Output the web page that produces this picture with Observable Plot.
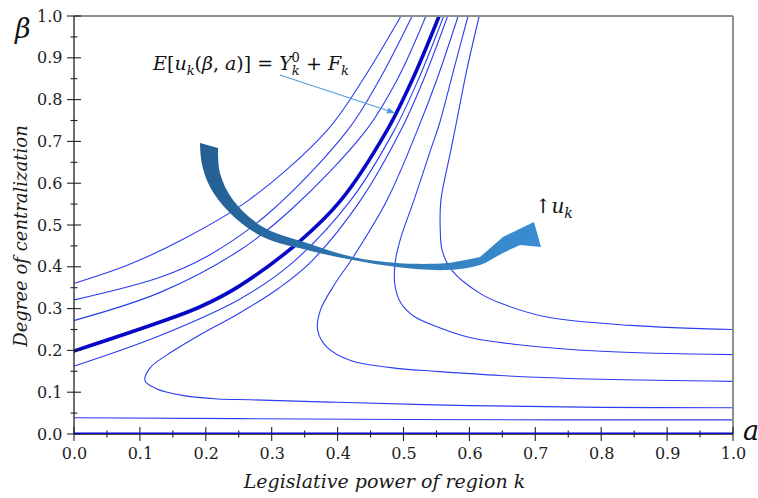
<!DOCTYPE html>
<html><head><meta charset="utf-8">
<script src="https://cdn.jsdelivr.net/npm/d3@7"></script>
<script src="https://cdn.jsdelivr.net/npm/@observablehq/plot@0.6"></script>
<style>html,body{margin:0;padding:0;background:#fff;} svg{display:block}</style>
</head><body><div id="chart"></div>
<script>
// ---- tick values ----
const xTicks = [0, 0.1, 0.2, 0.3, 0.4, 0.5, 0.6, 0.7, 0.8, 0.9, 1.0];
const yTicks = [0, 0.1, 0.2, 0.3, 0.4, 0.5, 0.6, 0.7, 0.8, 0.9, 1.0];
const minorTicks = [0.05, 0.15, 0.25, 0.35, 0.45, 0.55, 0.65, 0.75, 0.85, 0.95];

// ---- level curves [a, beta] ----
const curveA = [[0,0.362],[0.08,0.405],[0.161,0.464],[0.264,0.56],[0.383,0.727],[0.438,0.85],[0.495,1.0]];
const curveB = [[0,0.322],[0.13,0.376],[0.2,0.425],[0.295,0.53],[0.414,0.727],[0.463,0.85],[0.512,1.0]];
const curveC = [[0,0.273],[0.13,0.34],[0.25,0.44],[0.33,0.54],[0.442,0.727],[0.49,0.85],[0.533,1.0]];
const curveThick = [[0,0.2],[0.13,0.269],[0.19,0.305],[0.25,0.355],[0.343,0.464],[0.404,0.56],[0.474,0.727],[0.513,0.85],[0.553,1.0]];
const curveD = [[0,0.164],[0.13,0.237],[0.252,0.325],[0.33,0.41],[0.419,0.56],[0.485,0.727],[0.522,0.85],[0.56,1.0]];
const curveN1 = [[1.0,0.064],[0.8,0.065],[0.6,0.069],[0.4,0.077],[0.267,0.083],[0.217,0.085],[0.166,0.093],[0.125,0.109],[0.107,0.129],[0.115,0.16],[0.14,0.19],[0.19,0.238],[0.25,0.29],[0.31,0.35],[0.36,0.415],[0.434,0.56],[0.495,0.727],[0.53,0.85],[0.566,1.0]];
const curveN2 = [[1.0,0.127],[0.8,0.132],[0.646,0.141],[0.55,0.151],[0.48,0.16],[0.419,0.177],[0.383,0.209],[0.369,0.249],[0.373,0.297],[0.395,0.36],[0.421,0.42],[0.474,0.56],[0.52,0.727],[0.55,0.85],[0.582,1.0]];
const curveN3 = [[1.0,0.191],[0.8,0.199],[0.667,0.216],[0.6,0.232],[0.555,0.255],[0.515,0.283],[0.495,0.315],[0.486,0.36],[0.487,0.416],[0.495,0.47],[0.515,0.56],[0.54,0.679],[0.555,0.75],[0.575,0.87],[0.597,1.0]];
const curveN4 = [[1.0,0.251],[0.844,0.261],[0.717,0.281],[0.65,0.312],[0.616,0.337],[0.573,0.392],[0.558,0.44],[0.555,0.49],[0.556,0.56],[0.571,0.679],[0.58,0.75],[0.595,0.87],[0.614,1.0]];
const curveLow = [[0,0.040],[0.25,0.038],[0.5,0.036],[0.75,0.035],[1.0,0.035]];
const curveZero = [[0,0],[1,0]];

// ---- texts ----
const xTitle = "Legislative power of region k";
const yTitle = "Degree of centralization";

// ---- annotation shapes (data space) ----
const bigArrowOuter = [[0.1912,0.6962],[0.1938,0.6483],[0.2064,0.5909],[0.2367,0.5287],[0.2868,0.4713],[0.3536,0.4402],[0.4234,0.4163],[0.4901,0.3995],[0.5660,0.3923],[0.6161,0.4043],[0.6510,0.4330],[0.6768,0.4522]];
const bigArrowHead = [[0.7086,0.4474],[0.6980,0.5072],[0.6510,0.4713]];
const bigArrowInner = [[0.6161,0.4234],[0.5660,0.4091],[0.4901,0.4091],[0.4234,0.4234],[0.3536,0.4569],[0.2868,0.4952],[0.2413,0.5598],[0.2215,0.6244],[0.2185,0.6842]];
const pointerArrow = [[0.3126,0.8589],[0.4871,0.7679]];
const formulaAt = [0.12, 0.871];
const ukAt = [0.699, 0.529];

const thinColor = "#2b3df0", thickColor = "#0707c8";
const serif = "DejaVu Serif";

const line = (pts, w, c, curve = "catmull-rom") =>
  Plot.line(pts, {x: d => d[0], y: d => d[1], curve, stroke: c, strokeWidth: w, clip: true});

function frameAndTicks(index, {x, y}) {
  const g = d3.create("svg:g");
  const x0 = x(0), x1 = x(1), y0 = y(0), y1 = y(1);
  g.append("line").attr("x1", x0).attr("x2", x1).attr("y1", y1).attr("y2", y1).attr("stroke", "#8e8e8e").attr("stroke-width", 2);
  g.append("line").attr("x1", x1).attr("x2", x1).attr("y1", y1).attr("y2", y0).attr("stroke", "#8e8e8e").attr("stroke-width", 2);
  g.append("line").attr("x1", x0).attr("x2", x0).attr("y1", y1).attr("y2", y0).attr("stroke", "#222").attr("stroke-width", 1.3);
  g.append("line").attr("x1", x0).attr("x2", x1).attr("y1", y0).attr("y2", y0).attr("stroke", "#222").attr("stroke-width", 1.3);
  const t = g.append("g").attr("stroke", "#222").attr("stroke-width", 1.1);
  yTicks.forEach(v => t.append("line").attr("x1", x0 - 7).attr("x2", x0 + 7).attr("y1", y(v)).attr("y2", y(v)));
  minorTicks.forEach(v => t.append("line").attr("x1", x0 - 3.5).attr("x2", x0 + 3.5).attr("y1", y(v)).attr("y2", y(v)));
  xTicks.forEach(v => t.append("line").attr("y1", y0 - 7).attr("y2", y0 + 7).attr("x1", x(v)).attr("x2", x(v)));
  minorTicks.forEach(v => t.append("line").attr("y1", y0 - 3.5).attr("y2", y0 + 3.5).attr("x1", x(v)).attr("x2", x(v)));
  return g.node();
}

function annotations(index, {x, y}) {
  const g = d3.create("svg:g").attr("text-anchor", "start");
  const defs = g.append("defs");
  const grad = defs.append("linearGradient").attr("id", "bigArrowGrad").attr("x1", 0).attr("x2", 1).attr("y1", 0).attr("y2", 0);
  grad.append("stop").attr("offset", 0).attr("stop-color", "#245f92");
  grad.append("stop").attr("offset", 0.5).attr("stop-color", "#2f79b6");
  grad.append("stop").attr("offset", 1).attr("stop-color", "#3a8dd3");
  const P = p => [x(p[0]), y(p[1])];
  const smooth = d3.line().curve(d3.curveCatmullRom);
  const outer = smooth(bigArrowOuter.map(P));
  const inner = smooth(bigArrowInner.map(P)).replace(/^M/, "L");
  const head = bigArrowHead.map(P).map(p => "L" + p[0] + "," + p[1]).join("");
  g.append("path").attr("d", outer + head + inner + "Z").attr("fill", "url(#bigArrowGrad)");

  // pointer arrow to thick curve
  const [a, b] = pointerArrow.map(P);
  const ang = Math.atan2(b[1] - a[1], b[0] - a[0]);
  const hl = 8, hw = 3.2;
  const bx = b[0] - hl * Math.cos(ang), by = b[1] - hl * Math.sin(ang);
  g.append("line").attr("x1", a[0]).attr("y1", a[1]).attr("x2", bx).attr("y2", by).attr("stroke", "#4c9fdf").attr("stroke-width", 1.1);
  g.append("path").attr("d", `M${b[0]},${b[1]}L${bx - hw*Math.sin(ang)},${by + hw*Math.cos(ang)}L${bx + hw*Math.sin(ang)},${by - hw*Math.cos(ang)}Z`).attr("fill", "#4c9fdf");

  // formula
  const [fx, fy] = P(formulaAt);
  const f = g.append("text").attr("x", fx).attr("y", fy).attr("font-family", serif).attr("font-size", 19).attr("fill", "#111");
  const parts = [["E","i"],["[","n"],["u","i"],["k","sub"],["(","n"],["β","i"],[", ","n"],["a","i"],[")] = ","n"],["Y","i"],["k","sub"],["0","sup"],[" + ","n"],["F","i"],["k","sub"]];
  let shift = 0;
  parts.forEach(([s, kind]) => {
    const ts = f.append("tspan").text(s);
    let target = 0;
    if (kind === "sub") { target = 5; ts.attr("font-size", 13).attr("font-style", "italic"); }
    else if (kind === "sup") { target = -8; ts.attr("font-size", 13).attr("dx", -8); }
    else ts.attr("font-style", kind === "i" ? "italic" : "normal");
    ts.attr("dy", target - shift); shift = target;
  });

  // ↑u_k
  const [ux, uy] = P(ukAt);
  const u = g.append("text").attr("x", ux).attr("y", uy).attr("font-family", serif).attr("font-size", 20).attr("fill", "#111");
  u.append("tspan").text("↑");
  u.append("tspan").attr("font-style", "italic").text("u");
  u.append("tspan").attr("font-style", "italic").attr("font-size", 14).attr("dy", 5).text("k");

  // axis letters
  g.append("text").attr("x", x(0) - 59).attr("y", y(1) + 22).attr("font-family", serif).attr("font-style", "italic").attr("font-size", 27).attr("fill", "#111").text("β");
  g.append("text").attr("x", x(1) + 10).attr("y", y(0) + 6).attr("font-family", serif).attr("font-style", "italic").attr("font-size", 27).attr("fill", "#111").text("a");

  // axis titles
  g.append("text").attr("text-anchor", "middle").attr("x", (x(0) + x(1)) / 2 - 19).attr("y", y(0) + 54)
    .attr("font-family", serif).attr("font-style", "italic").attr("font-size", 19).attr("fill", "#1a1a1a").text(xTitle);
  g.append("text").attr("text-anchor", "middle").attr("transform", `translate(${x(0) - 47},${(y(0) + y(1)) / 2 + 11}) rotate(-90)`)
    .attr("font-family", serif).attr("font-style", "italic").attr("font-size", 18).attr("fill", "#1a1a1a").text(yTitle);
  return g.node();
}

const chart = Plot.plot({
  width: 758, height: 498,
  marginLeft: 74, marginRight: 25, marginTop: 16, marginBottom: 64,
  x: {domain: [0, 1]},
  y: {domain: [0, 1]},
  style: {background: "#fff", fontFamily: serif, overflow: "visible"},
  marks: [
    line(curveA, 1.1, thinColor),
    line(curveB, 1.1, thinColor),
    line(curveC, 1.1, thinColor),
    line(curveD, 1.1, thinColor),
    line(curveN1, 1.1, thinColor),
    line(curveN2, 1.1, thinColor),
    line(curveN3, 1.1, thinColor),
    line(curveN4, 1.1, thinColor),
    line(curveLow, 1.1, thinColor, "linear"),
    line(curveThick, 3.6, thickColor),
    frameAndTicks,
    line(curveZero, 4, thickColor, "linear"),
    Plot.axisX({ticks: xTicks, tickSize: 0, tickPadding: 13, tickFormat: d3.format(".1f"), fontSize: 16, fontFamily: serif, color: "#222", label: null}),
    Plot.axisY({ticks: yTicks, tickSize: 0, tickPadding: 12, tickFormat: d3.format(".1f"), fontSize: 16, fontFamily: serif, color: "#222", label: null}),
    annotations
  ]
});
document.getElementById("chart").appendChild(chart);
</script>
</body></html>
